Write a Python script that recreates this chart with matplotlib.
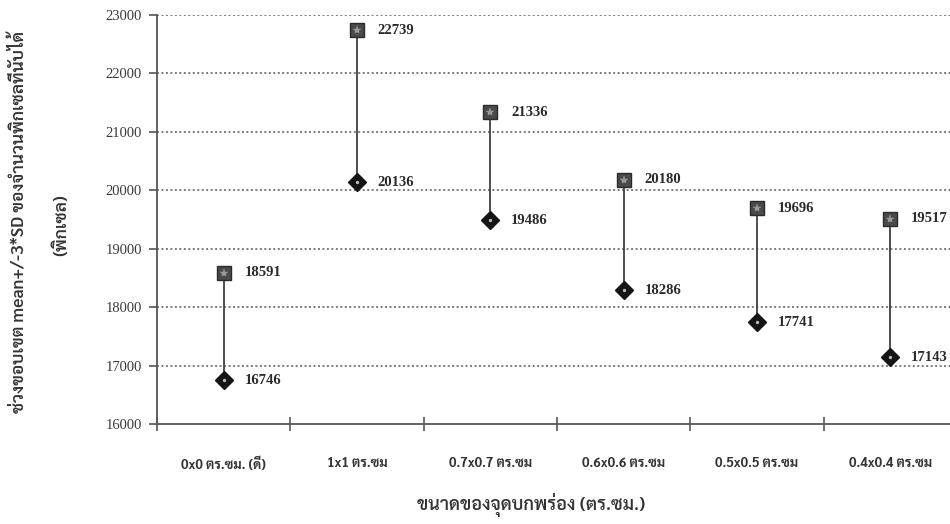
import matplotlib
matplotlib.use("Agg")
import matplotlib.pyplot as plt

# ช่วงขอบเขต mean +/- 3*SD ของจำนวนพิกเซลที่นับได้ ตามขนาดของจุดบกพร่อง
categories = ["0x0 ตร.ซม. (ดี)", "1x1 ตร.ซม", "0.7x0.7 ตร.ซม",
              "0.6x0.6 ตร.ซม", "0.5x0.5 ตร.ซม", "0.4x0.4 ตร.ซม"]
upper = [18591, 22739, 21336, 20180, 19696, 19517]
lower = [16746, 20136, 19486, 18286, 17741, 17143]
yticks = [16000, 17000, 18000, 19000, 20000, 21000, 22000, 23000]

thai = ["Sarabun", "Liberation Serif", "DejaVu Sans"]
num_font = "Liberation Serif"

fig = plt.figure(figsize=(9.5, 5.24), dpi=100)
ax = fig.add_axes([157 / 950, 1 - 424 / 524, 800 / 950, 409 / 524])

x = list(range(len(categories)))

# dotted grid lines
for v in yticks[1:]:
    ax.axhline(v, color="#7a7a7a", lw=1.4, ls=(0, (1, 1.3)), zorder=1)

# vertical range lines between lower and upper bounds
ax.vlines(x, lower, upper, color="#404040", lw=1.3, zorder=2)

ax.plot(x, upper, ls="none", marker="s", ms=10, mfc="#4a4a4a",
        mec="#2a2a2a", mew=1, zorder=3)
ax.plot(x, upper, ls="none", marker="*", ms=6, mfc="#9a9a9a",
        mec="#9a9a9a", mew=0.3, zorder=4)
ax.plot(x, lower, ls="none", marker="D", ms=9.5, mfc="#151515",
        mec="#151515", zorder=3)
ax.plot(x, lower, ls="none", marker="o", ms=2.4, mfc="#bbbbbb",
        mec="none", zorder=4)

for xi, u, l in zip(x, upper, lower):
    for v in (u, l):
        ax.annotate(str(v), (xi, v), xytext=(15, 0),
                    textcoords="offset points", va="center", ha="left",
                    fontsize=10.5, fontfamily=num_font, fontweight="bold",
                    color="#2a2a2a")

ax.set_xlim(-0.5, 5.5)
ax.set_ylim(16000, 23000)

ax.set_yticks(yticks)
ax.set_yticklabels([str(v) for v in yticks], fontfamily=num_font,
                   fontsize=10.5, color="#3a3a3a")
ax.tick_params(axis="y", direction="out", length=6, width=1.2,
               color="#555555", pad=5)

# category boundaries as major ticks, names as minor ticks
ax.set_xticks([i - 0.5 for i in range(len(categories) + 1)])
ax.set_xticklabels([])
ax.tick_params(axis="x", which="major", direction="inout", length=10,
               width=1.2, color="#555555")
ax.set_xticks(x, minor=True)
ax.set_xticklabels(categories, minor=True, fontfamily=thai,
                   fontsize=9.5, fontweight="bold", color="#333333")
ax.tick_params(axis="x", which="minor", length=0, pad=24)

for side in ("top", "right"):
    ax.spines[side].set_visible(False)
for side in ("left", "bottom"):
    ax.spines[side].set_color("#555555")
    ax.spines[side].set_linewidth(1.3)

fig.text(531 / 950, 1 - 505 / 524, "ขนาดของจุดบกพร่อง (ตร.ซม.)",
         ha="center", va="center", fontsize=13, fontfamily=thai,
         fontweight="semibold", color="#333333")
fig.text(19 / 950, 1 - 222 / 524,
         "ช่วงขอบเขต mean+/-3*SD ของจำนวนพิกเซลที่นับได้",
         ha="center", va="center", rotation=90, fontsize=12.5,
         fontfamily=thai, fontweight="semibold", color="#333333")
fig.text(62 / 950, 1 - 225 / 524, "(พิกเซล)", ha="center", va="center",
         rotation=90, fontsize=12.5, fontfamily=thai,
         fontweight="semibold", color="#333333")

fig.savefig("out.png", dpi=100)
